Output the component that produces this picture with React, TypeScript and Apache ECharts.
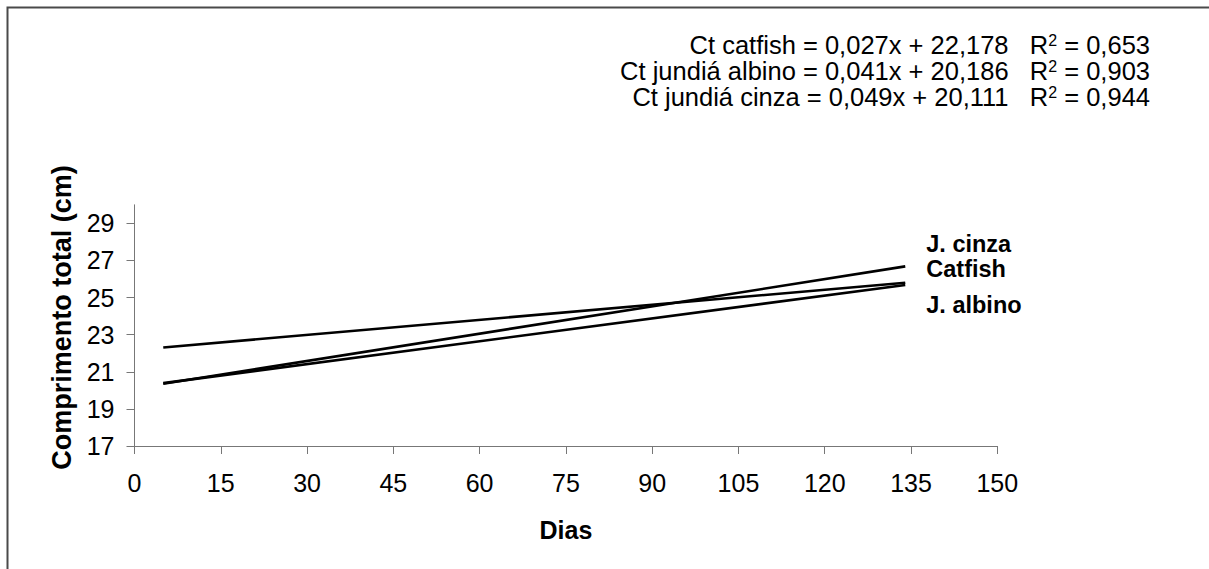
import React, { useEffect, useRef } from 'react';
import * as echarts from 'echarts';

// Fitted trend lines (start and end days)
const days = [5, 134];
const catfish = [22.31, 25.8];
const jAlbino = [20.39, 25.68];
const jCinza = [20.36, 26.68];

const seriesNames = ['J. cinza', 'Catfish', 'J. albino'];

const yTicks = [17, 19, 21, 23, 25, 27, 29];

const eqNames = ['Ct catfish', 'Ct jundiá albino', 'Ct jundiá cinza'];
const eqFormulas = ['0,027x + 22,178', '0,041x + 20,186', '0,049x + 20,111'];
const eqR2 = ['0,653', '0,903', '0,944'];

const FONT = '"Liberation Sans", Arial, Helvetica, sans-serif';

export default function App() {
  const ref = useRef<HTMLDivElement>(null);

  useEffect(() => {
    if (!ref.current) return;
    const chart = echarts.init(ref.current, undefined, { renderer: 'svg' });

    const toPts = (vals: number[]) => days.map((d, i) => [d, vals[i]]);
    const seriesData = [jCinza, catfish, jAlbino];
    const labelOffsets = [-22.5, -13.5, 20];

    const eqY = [45, 71, 97];
    const nbsp = '\u00a0';

    const option: any = {
      animation: false,
      backgroundColor: '#fff',
      grid: { left: 134.5, top: 204.8, width: 862.8, height: 241.2, containLabel: false },
      xAxis: {
        type: 'value',
        min: 0,
        max: 150,
        interval: 15,
        name: 'Dias',
        nameLocation: 'middle',
        nameGap: 71,
        nameTextStyle: { fontFamily: FONT, fontSize: 25, fontWeight: 'bold', color: '#000' },
        axisLine: { show: true, lineStyle: { color: '#777', width: 1 } },
        axisTick: { show: true, inside: false, length: 8, lineStyle: { color: '#777' } },
        axisLabel: { fontFamily: FONT, fontSize: 25, color: '#000', margin: 24 },
        splitLine: { show: false },
      },
      yAxis: {
        type: 'value',
        min: 17,
        max: 30,
        name: 'Comprimento total (cm)',
        nameLocation: 'middle',
        nameRotate: 90,
        nameGap: 47,
        nameTextStyle: {
          fontFamily: FONT,
          fontSize: 27,
          fontWeight: 'bold',
          color: '#000',
          padding: [0, 0, 0, 16],
        },
        axisLine: { show: true, onZero: false, lineStyle: { color: '#777', width: 1 } },
        axisTick: { show: true, inside: false, length: 8, customValues: yTicks, lineStyle: { color: '#777' } },
        axisLabel: { fontFamily: FONT, fontSize: 25, color: '#000', margin: 20, customValues: yTicks },
        splitLine: { show: false },
      },
      series: seriesNames.map((name, i) => ({
        name,
        type: 'line',
        data: toPts(seriesData[i]),
        showSymbol: false,
        symbol: 'none',
        lineStyle: { color: '#000', width: 2.6 },
        endLabel: {
          show: true,
          formatter: name,
          distance: 21,
          offset: [0, labelOffsets[i]],
          fontFamily: FONT,
          fontSize: 23.5,
          lineHeight: 22,
          fontWeight: 'bold',
          color: '#000',
        },
        z: 3,
      })),
      graphic: [
        {
          type: 'rect',
          shape: { x: 7.5, y: 7.5, width: 1400, height: 800 },
          style: { fill: 'none', stroke: '#4a4a4a', lineWidth: 2 },
          silent: true,
          z: 0,
        },
        ...eqNames.map((n, i) => ({
          type: 'text',
          x: 1150,
          y: eqY[i],
          style: {
            text: `{n|${n} = ${eqFormulas[i]}${nbsp}${nbsp}${nbsp}R}{s|2}{n|${nbsp}= ${eqR2[i]}}`,
            align: 'right',
            verticalAlign: 'middle',
            fontFamily: FONT,
            fontSize: 25.5,
            fill: '#000',
            rich: {
              n: { fontFamily: FONT, fontSize: 25.5, lineHeight: 25, fill: '#000', color: '#000' },
              s: { fontFamily: FONT, fontSize: 16, lineHeight: 10, verticalAlign: 'top', fill: '#000', color: '#000' },
            },
          },
          z: 5,
        })),
      ],
    };

    chart.setOption(option);
    return () => chart.dispose();
  }, []);

  return (
    <div
      ref={ref}
      style={{ position: 'fixed', left: 0, top: 0, width: 1209, height: 569, background: '#fff' }}
    />
  );
}
